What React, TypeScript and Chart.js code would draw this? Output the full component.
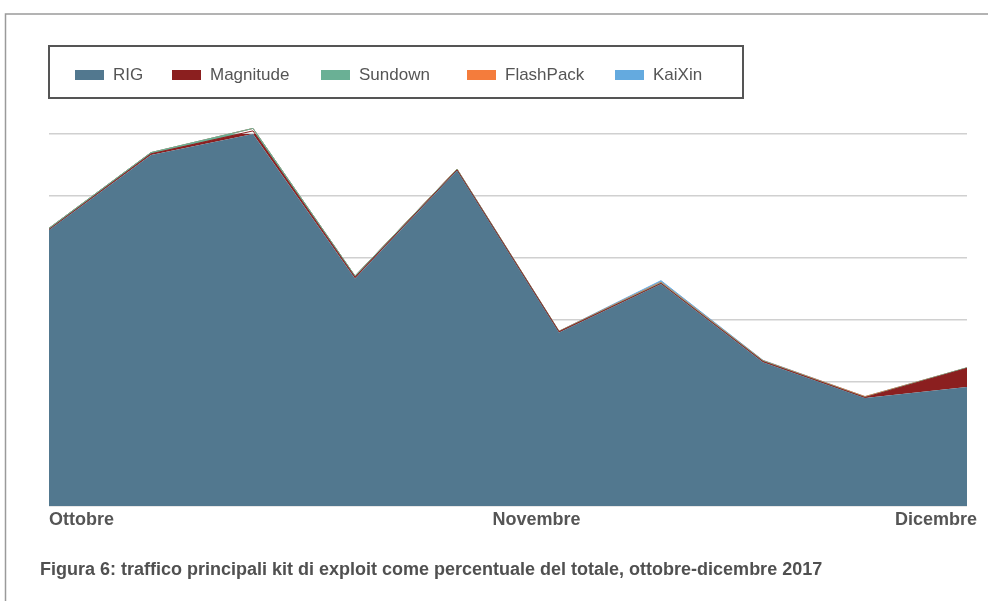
import React, { useEffect, useRef } from "react";
import { Chart, registerables } from "chart.js";

Chart.register(...registerables);

const periods = ["S1", "S2", "S3", "S4", "S5", "S6", "S7", "S8", "S9", "S10"];
const rig = [44.5, 56.6, 60.0, 36.7, 54.1, 28.0, 35.8, 23.2, 17.4, 19.2];
const magnitude = [0.1, 0.2, 0.5, 0.2, 0.1, 0.1, 0.1, 0.1, 0.1, 3.0];
const sundown = [0.2, 0.2, 0.4, 0.2, 0.1, 0.05, 0.1, 0.1, 0.05, 0.1];
const flashPack = [0, 0, 0, 0, 0.05, 0.05, 0.1, 0.05, 0.1, 0];
const kaiXin = [0, 0, 0, 0, 0, 0, 0.25, 0.05, 0, 0];

const seriesNames = ["RIG", "Magnitude", "Sundown", "FlashPack", "KaiXin"];
const seriesColors = ["#52788f", "#8b1f1f", "#6ab095", "#f47c3c", "#64aadf"];
const xTickLabels = ["Ottobre", "Novembre", "Dicembre"];
const xTickPositions = [0, 4.78, 9];
const caption =
  "Figura 6: traffico principali kit di exploit come percentuale del totale, ottobre-dicembre 2017";

const decorPlugin = {
  id: "decor",
  afterDraw(chart: any) {
    const ctx = chart.ctx as CanvasRenderingContext2D;
    const xs = chart.scales.x;
    const area = chart.chartArea;
    ctx.save();
    // frame
    ctx.strokeStyle = "#9a9a9a";
    ctx.lineWidth = 1.5;
    ctx.beginPath();
    ctx.moveTo(988, 14);
    ctx.lineTo(5.5, 14);
    ctx.lineTo(5.5, 601);
    ctx.stroke();

    // legend box
    ctx.strokeStyle = "#555555";
    ctx.lineWidth = 2;
    ctx.strokeRect(49, 46, 694, 52);
    ctx.font = "17px 'Liberation Sans', Arial, sans-serif";
    ctx.textBaseline = "middle";
    ctx.textAlign = "left";
    const starts = [75, 172, 321, 467, 615];
    chart.data.datasets.forEach((ds: any, i: number) => {
      const x = starts[i];
      ctx.fillStyle = ds.backgroundColor;
      ctx.fillRect(x, 70, 29, 10);
      ctx.fillStyle = "#555555";
      ctx.fillText(ds.label, x + 38, 75.5);
    });

    // x labels
    ctx.font = "bold 18px 'Liberation Sans', Arial, sans-serif";
    ctx.fillStyle = "#555555";
    ctx.textBaseline = "middle";
    const pix = (v: number) => {
      const i0 = Math.floor(v);
      const i1 = Math.min(i0 + 1, periods.length - 1);
      const p0 = xs.getPixelForValue(i0);
      const p1 = xs.getPixelForValue(i1);
      return p0 + (p1 - p0) * (v - i0);
    };
    xTickLabels.forEach((lab, i) => {
      const p = pix(xTickPositions[i]);
      if (i === 0) {
        ctx.textAlign = "left";
        ctx.fillText(lab, p, area.bottom + 14);
      } else if (i === xTickLabels.length - 1) {
        ctx.textAlign = "right";
        ctx.fillText(lab, p + 10, area.bottom + 14);
      } else {
        ctx.textAlign = "center";
        ctx.fillText(lab, p, area.bottom + 14);
      }
    });

    // caption
    ctx.font = "bold 18px 'Liberation Sans', Arial, sans-serif";
    ctx.textAlign = "left";
    ctx.fillStyle = "#505050";
    ctx.fillText(caption, 40, 570);
    ctx.restore();
  },
};

export default function App() {
  const ref = useRef<HTMLCanvasElement>(null);
  useEffect(() => {
    if (!ref.current) return;
    const values = [rig, magnitude, sundown, flashPack, kaiXin];
    const chart = new Chart(ref.current, {
      type: "line",
      data: {
        labels: periods,
        datasets: values.map((v, i) => ({
          label: seriesNames[i],
          data: v,
          backgroundColor: seriesColors[i],
          borderColor: seriesColors[i],
          borderWidth: i === 0 ? 0 : 1,
          fill: i === 0 ? "origin" : "-1",
          pointRadius: 0,
          tension: 0,
          clip: false as any,
        })),
      },
      options: {
        animation: false,
        responsive: false,
        devicePixelRatio: 1,
        layout: { padding: { left: 49, right: 21, top: 134, bottom: 95 } },
        plugins: {
          legend: { display: false },
          tooltip: { enabled: false },
        },
        scales: {
          x: { display: false, offset: false },
          y: {
            stacked: true,
            min: 0,
            max: 60,
            ticks: { display: false, stepSize: 10 },
            grid: { color: "#d0d0d0", lineWidth: 1.5, drawTicks: false },
            border: { display: false },
            afterFit: (s: any) => {
              s.width = 0;
            },
          },
        },
      },
      plugins: [decorPlugin],
    });
    return () => chart.destroy();
  }, []);
  return (
    <div style={{ position: "absolute", left: 0, top: 0, width: 988, height: 601, background: "#fff" }}>
      <canvas ref={ref} width={988} height={601} style={{ width: 988, height: 601, display: "block" }} />
    </div>
  );
}
